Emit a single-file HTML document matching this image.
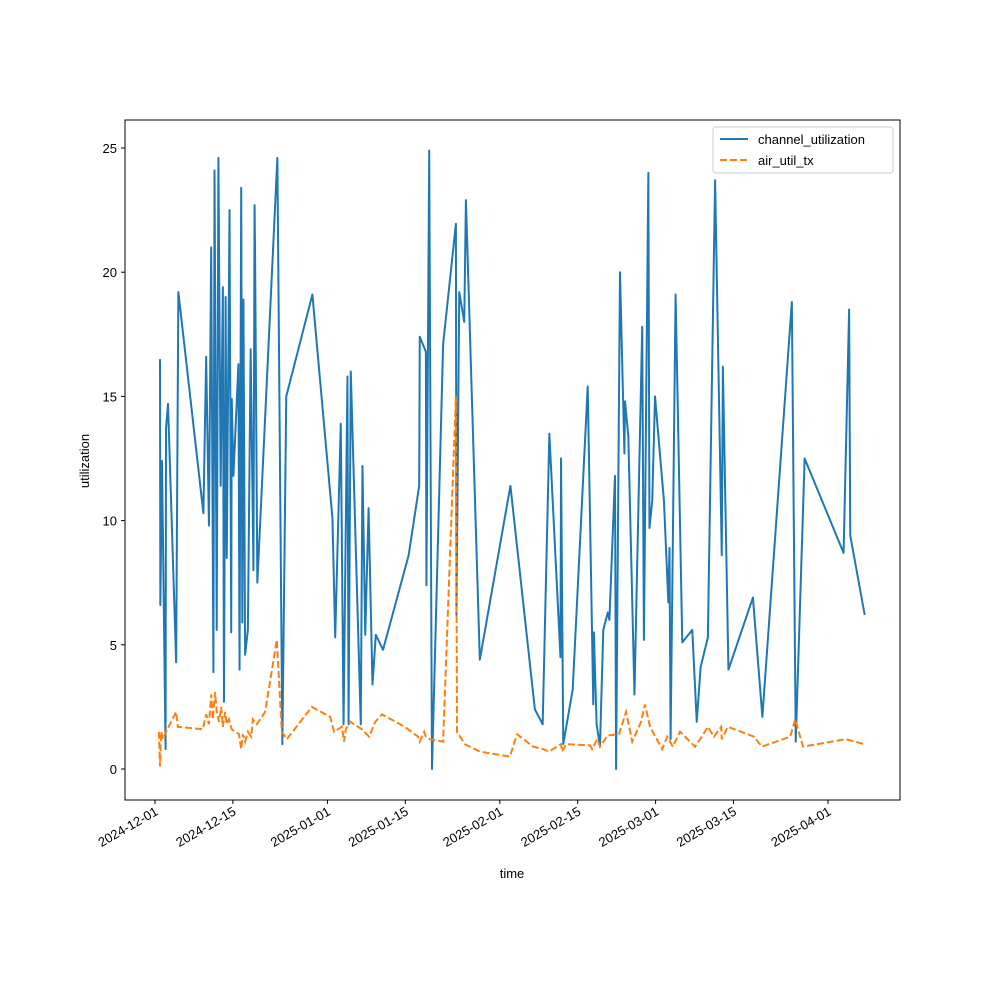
<!DOCTYPE html>
<html><head><meta charset="utf-8"><style>
body{margin:0;background:#fff}
svg text{font-family:"Liberation Sans","DejaVu Sans",sans-serif;font-size:13px;fill:#000}
</style></head><body>
<svg id="chart" width="1000" height="1000" xmlns="http://www.w3.org/2000/svg">
<rect width="1000" height="1000" fill="#fff"/>
<g id="plot"></g>
<g id="axes"></g>
<g>
<rect x="713" y="127" width="180" height="46" rx="3" fill="#fff" fill-opacity="0.8" stroke="#ccc"/>
<line x1="720" y1="139" x2="748" y2="139" stroke="#1f77b4" stroke-width="2"/>
<text x="758" y="144">channel_utilization</text>
<line x1="720" y1="160" x2="748" y2="160" stroke="#ff7f0e" stroke-width="2" stroke-dasharray="7,3"/>
<text x="758" y="165">air_util_tx</text>
</g>
</svg>
<script>
const chDays=[0.9,0.96,1.26,1.9,1.98,2.34,3.8,4.2,8.7,9.2,9.7,10.1,10.5,10.7,11.1,11.4,11.8,12.2,12.4,12.7,12.9,13.4,13.7,13.8,14.1,15.0,15.2,15.5,15.7,15.9,16.2,16.7,17.2,17.7,17.9,18.0,18.4,22.0,22.9,23.6,28.3,31.9,32.4,33.4,33.9,34.6,34.8,35.2,37.0,37.3,37.8,38.4,39.1,39.7,41.0,45.6,47.5,47.6,48.7,48.8,49.3,49.8,51.8,54.1,54.2,54.7,55.6,55.9,58.4,63.9,68.3,69.7,70.9,72.9,73.0,73.4,75.1,77.8,78.8,78.9,79.4,80.0,80.6,81.4,81.7,82.7,82.9,83.6,84.4,84.5,85.1,86.2,87.6,87.9,88.7,88.9,89.4,89.9,91.5,92.3,92.5,92.7,93.6,94.8,96.6,97.4,98.1,99.4,100.7,101.9,102.1,103.1,107.5,109.2,114.5,115.2,116.8,123.8,124.8,125.0,127.6];
const chVals=[16.5,6.6,12.4,0.8,13.7,14.7,4.3,19.2,10.3,16.6,9.8,21.0,3.9,24.1,5.6,24.6,11.4,19.4,2.7,19.0,8.5,22.5,5.5,14.9,11.8,16.3,4.0,23.4,5.9,18.9,4.6,5.6,16.9,8.0,22.7,20.5,7.5,24.6,1.0,15.0,19.1,10.1,5.3,13.9,1.8,15.8,1.8,16.0,1.8,12.2,5.4,10.5,3.4,5.4,4.8,8.6,11.4,17.4,16.8,7.4,24.9,0.0,17.1,21.95,6.2,19.2,18.0,22.9,4.4,11.4,2.4,1.8,13.5,4.5,12.5,1.0,3.2,15.4,2.6,5.5,1.8,0.9,5.6,6.3,6.0,11.8,0.0,20.0,12.7,14.8,13.4,3.0,17.8,5.2,24.0,9.7,10.8,15.0,10.8,6.7,8.9,1.2,19.1,5.1,5.6,1.9,4.1,5.3,23.7,8.6,16.2,4.0,6.9,2.1,18.8,1.1,12.5,8.7,18.5,9.4,6.2];
const airDays=[0.7,0.9,1.1,1.4,2.0,3.8,4.1,8.6,9.2,9.7,10.1,10.4,10.8,11.1,11.5,11.9,12.2,12.6,12.9,13.3,13.8,15.1,15.5,15.8,16.2,16.7,17.3,17.6,18.3,19.8,21.9,22.8,23.7,28.2,31.5,32.2,33.6,34.0,34.3,35.1,37.2,38.5,39.6,40.8,44.9,47.3,47.6,48.4,48.7,49.4,51.8,53.6,54.1,54.3,55.7,58.4,63.8,65.1,68.0,69.8,70.8,73.0,73.2,73.9,78.2,78.6,79.5,80.0,81.4,83.4,84.7,85.8,87.4,88.1,89.0,91.2,92.1,93.1,94.4,97.1,98.3,99.4,100.5,101.8,101.9,103.0,107.7,109.1,114.2,115.1,116.5,124.2,127.5];
const airVals=[1.5,0.1,1.5,1.2,1.5,2.3,1.7,1.6,2.2,1.8,3.0,2.0,3.1,2.3,1.9,2.5,1.7,2.3,1.8,2.0,1.6,1.4,0.8,1.4,1.1,1.5,1.3,2.0,1.8,2.3,5.2,1.5,1.2,2.5,2.1,1.5,1.7,1.1,1.6,1.9,1.6,1.3,1.9,2.2,1.7,1.3,1.1,1.5,1.3,1.2,1.1,12,15,1.5,1.0,0.7,0.5,1.4,0.9,0.8,0.7,1.0,0.7,1.0,0.95,0.8,1.2,0.9,1.35,1.4,2.3,1.1,1.9,2.6,1.7,0.8,1.3,0.9,1.5,0.9,1.3,1.7,1.3,1.7,1.2,1.7,1.3,0.9,1.3,2.0,0.9,1.2,1.0];
const xTickDays=[0,14,31,45,62,76,90,104,121];
const xTickLabels=["2024-12-01","2024-12-15","2025-01-01","2025-01-15","2025-02-01","2025-02-15","2025-03-01","2025-03-15","2025-04-01"];
const yTicks=[0,5,10,15,20,25];
const xScale=d=>155+d*5.562;
const yScale=v=>769-v*24.84;
const NS="http://www.w3.org/2000/svg";
const plot=document.getElementById('plot'),axes=document.getElementById('axes');
function mk(tag,attrs,parent){const e=document.createElementNS(NS,tag);for(const k in attrs)e.setAttribute(k,attrs[k]);parent.appendChild(e);return e;}
const chLine=mk('polyline',{points:chDays.map((d,i)=>xScale(d)+','+yScale(chVals[i])).join(' '),fill:'none',stroke:'#1f77b4','stroke-width':2,'stroke-linejoin':'round'},plot);


const airLine=mk('polyline',{points:airDays.map((d,i)=>xScale(d)+','+yScale(airVals[i])).join(' '),fill:'none',stroke:'#ff7f0e','stroke-width':2,'stroke-dasharray':'7,3'},plot);


const frame=mk('rect',{x:125,y:120,width:775,height:680,fill:'none',stroke:'#000','stroke-width':1},axes);


yTicks.forEach(v=>{const y=yScale(v);
 mk('line',{x1:121,x2:125,y1:y,y2:y,stroke:'#000'},axes);
 const t=mk('text',{x:117,y:y+5,'text-anchor':'end'},axes);t.textContent=v;
 
 });
xTickDays.forEach((d,i)=>{const x=xScale(d);
 mk('line',{x1:x,x2:x,y1:800,y2:804,stroke:'#000'},axes);
 const t=mk('text',{x:x+4,y:814,'text-anchor':'end',transform:'rotate(-30 '+(x+4)+' 814)'},axes);t.textContent=xTickLabels[i];
 
 });
const xl=mk('text',{x:512,y:878,'text-anchor':'middle'},axes);xl.textContent='time';


const yl=mk('text',{x:89,y:461,'text-anchor':'middle',transform:'rotate(-90 89 461)'},axes);yl.textContent='utilization';


</script>
</body></html>
